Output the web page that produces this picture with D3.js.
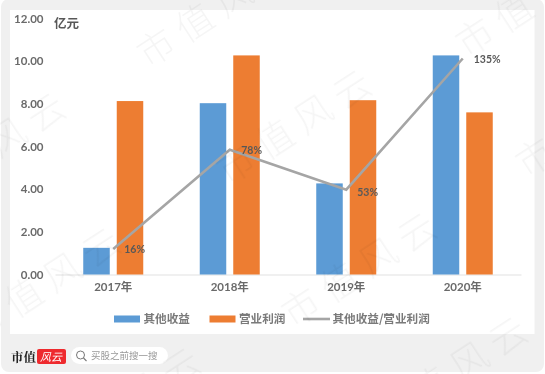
<!DOCTYPE html>
<html><head><meta charset="utf-8">
<script src="https://cdn.jsdelivr.net/npm/d3@7"></script>
<style>html,body{margin:0;padding:0;background:#fff}svg{display:block}</style>
</head><body><div id="c"></div>
<script>
const categories=["2017年","2018年","2019年","2020年"];
const otherIncome=[1.25,8.03,4.27,10.27];
const operatingProfit=[8.13,10.27,8.17,7.6];
const ratio=[0.16,0.78,0.53,1.35];
const ratioLabels=["16%","78%","53%","135%"];
const yTicks=[0,2,4,6,8,10,12];
const seriesNames=["其他收益","营业利润","其他收益/营业利润"];
const watermarkAnchors=[[160,50],[240,167],[305,310],[479,40],[539,160],[-66,190],[-11,325],[396,414],[69,445]];

const W=545,H=374;
const svg=d3.select("#c").append("svg").attr("width",W).attr("height",H);
const defs=svg.append("defs");
defs.append("filter").attr("id","soft").attr("x","-5%").attr("y","-5%").attr("width","110%").attr("height","110%")
  .append("feGaussianBlur").attr("stdDeviation",0.45);
const font="Lato,'Noto Sans CJK SC',sans-serif", cjk="'Noto Sans CJK SC',sans-serif";

svg.append("rect").attr("x",1).attr("y",-1).attr("width",543).attr("height",373).attr("rx",8).attr("fill","#f0f0f0");
svg.append("rect").attr("x",10).attr("y",10).attr("width",524.5).attr("height",324).attr("fill","#fff");

const g=svg.append("g").attr("filter","url(#soft)");
const x=d3.scaleBand().domain(categories).range([55,521]);
const y=d3.scaleLinear().domain([0,12]).range([274.5,18.5]);
const yR=d3.scaleLinear().domain([0,1.6]).range([274.5,18.5]);
const barW=26.5, off=[-30,3.5];
const colors=["#5b9bd5","#ed7d31","#a5a5a5"];

// axes
const ax=d3.axisBottom(x).tickSize(0).tickPadding(0);
const xg=g.append("g").attr("transform","translate(0,274.5)").call(ax);
xg.select(".domain").attr("stroke","#e2e2e2").attr("stroke-width",1.2);
xg.selectAll("text").attr("y",16).attr("dy",0).attr("font-family",font).attr("font-size",11.5).attr("font-weight",700).attr("fill","#6a6a6a");
const ay=d3.axisLeft(y).tickValues(yTicks).tickSize(0).tickPadding(0).tickFormat(d3.format(".2f"));
const yg=g.append("g").attr("transform","translate(43.5,0)").call(ay);
yg.select(".domain").remove();
yg.selectAll("text").attr("font-family",font).attr("font-size",11.5).attr("font-weight",700).attr("fill","#6a6a6a");

// bars
[otherIncome,operatingProfit].forEach((vals,i)=>{
  g.append("g").selectAll("rect").data(vals).join("rect")
   .attr("x",(d,j)=>x(categories[j])+x.bandwidth()/2+off[i])
   .attr("y",d=>y(d)).attr("width",barW).attr("height",d=>y(0)-y(d))
   .attr("fill",colors[i]);
});

// line
const line=d3.line().x((d,j)=>x(categories[j])+x.bandwidth()/2).y(d=>yR(d));
g.append("path").attr("d",line(ratio)).attr("fill","none").attr("stroke",colors[2]).attr("stroke-width",2.6);

// line labels
const labelDx=[11,11.5,11,11], labelDy=[4,4.5,6,4];
g.append("g").selectAll("text").data(ratioLabels).join("text")
 .attr("x",(d,j)=>x(categories[j])+x.bandwidth()/2+labelDx[j])
 .attr("y",(d,j)=>yR(ratio[j])+labelDy[j])
 .attr("font-family",font).attr("font-size",10.5).attr("font-weight",700).attr("fill","#595959").text(d=>d);

g.append("text").attr("x",54).attr("y",28).attr("font-family",cjk).attr("font-size",12.5).attr("font-weight",700).attr("fill","#595959").text("亿元");

// legend
const ly=319;
const legendX=[114,209.5,303];
seriesNames.forEach((n,i)=>{
  if(i<2) g.append("rect").attr("x",legendX[i]).attr("y",ly-3.5).attr("width",26).attr("height",7).attr("fill",colors[i]);
  else g.append("line").attr("x1",legendX[i]).attr("x2",legendX[i]+27).attr("y1",ly).attr("y2",ly).attr("stroke",colors[2]).attr("stroke-width",2.6);
  g.append("text").attr("x",legendX[i]+29.5).attr("y",ly+4).attr("font-family",cjk).attr("font-size",11.6).attr("font-weight",700).attr("fill","#7a7a7a").text(n);
});

// footer
const f=svg.append("g").attr("filter","url(#soft)");
f.append("text").attr("x",11).attr("y",362).attr("font-family","'Noto Serif CJK SC','Noto Sans CJK SC',serif").attr("font-size",12.5).attr("font-weight",700).attr("fill","#222").text("市值");
f.append("rect").attr("x",37).attr("y",349).attr("width",29).attr("height",15).attr("rx",2).attr("fill","#ee2b2f");
f.append("text").attr("x",40).attr("y",361).attr("font-family",cjk).attr("font-size",11).attr("font-style","italic").attr("fill","#fff").text("风云");
f.append("rect").attr("x",71).attr("y",347).attr("width",97).attr("height",17).attr("rx",8.5).attr("fill","#fff");
f.append("circle").attr("cx",80.5).attr("cy",355).attr("r",4).attr("fill","none").attr("stroke","#777").attr("stroke-width",1);
f.append("line").attr("x1",83.5).attr("y1",358).attr("x2",86.5).attr("y2",361).attr("stroke","#777").attr("stroke-width",1.1);
f.append("text").attr("x",91).attr("y",359).attr("font-family",cjk).attr("font-size",9.5).attr("fill","#999").text("买股之前搜一搜");

// watermarks
const wm=svg.append("g").attr("filter","url(#soft)");
wm.selectAll("text").data(watermarkAnchors).join("text")
  .attr("transform",d=>`translate(${d[0]-12},${d[1]+19}) rotate(-33)`)
  .attr("font-family",cjk).attr("font-size",37).attr("font-weight",300).attr("letter-spacing",9)
  .attr("fill","#000").attr("fill-opacity",0.04).text("市值风云");
</script></body></html>
